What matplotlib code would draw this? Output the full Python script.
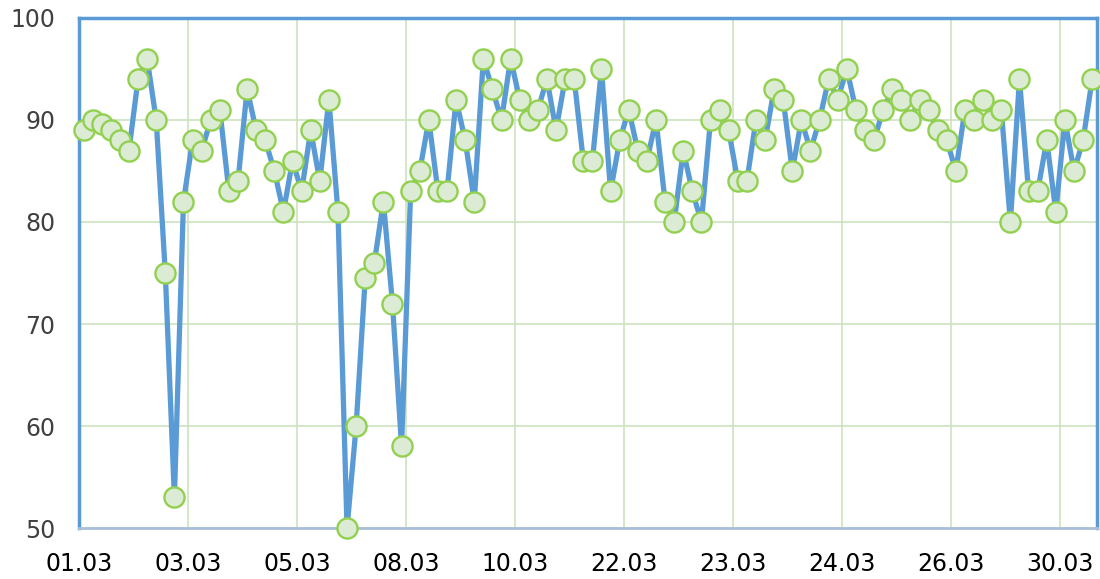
import numpy as np
import matplotlib.pyplot as plt

# values, one per category
values = [
    89, 90, 89.6, 89, 88, 87, 94, 96, 90, 75, 53, 82,
    88, 87, 90, 91, 83, 84, 93, 89, 88, 85, 81, 86,
    83, 89, 84, 92, 81, 50, 60, 74.5, 76, 82, 72, 58,
    83, 85, 90, 83, 83, 92, 88, 82, 96, 93, 90, 96,
    92, 90, 91, 94, 89, 94, 94, 86, 86, 95, 83, 88,
    91, 87, 86, 90, 82, 80, 87, 83, 80, 90, 91, 89,
    84, 84, 90, 88, 93, 92, 85, 90, 87, 90, 94, 92,
    95, 91, 89, 88, 91, 93, 92, 90, 92, 91, 89, 88,
    85, 91, 90, 92, 90, 91, 80, 94, 83, 83, 88, 81,
    90, 85, 88, 94,
]
tick_labels = ["01.03", "03.03", "05.03", "08.03", "10.03",
               "22.03", "23.03", "24.03", "26.03", "30.03"]
label_step = 12

blue = "#5b9bd5"
grid_green = "#cce3bd"

fig = plt.figure(figsize=(11, 5.79), dpi=100)
ax = fig.add_axes([0.0718, 0.088, 0.9252, 0.881])

n = len(values)
x = np.arange(n) + 0.5
ax.plot(x, values, color=blue, lw=3.8, zorder=3,
        marker="o", markersize=14.5, markerfacecolor="#dcebd3",
        markeredgecolor="#92d050", markeredgewidth=1.7, clip_on=False)

ax.set_xlim(0, n)
ax.set_ylim(50, 100)
ticks = np.arange(0, n, label_step)
ax.set_xticks(ticks)
ax.set_xticklabels(tick_labels[:len(ticks)])
ax.set_yticks(np.arange(50, 101, 10))

ax.grid(True, color=grid_green, lw=1.2, zorder=0)
ax.tick_params(axis="both", length=0, labelsize=17)
ax.tick_params(axis="y", pad=17, labelcolor="#404040")
ax.tick_params(axis="x", pad=17, labelcolor="black")

for side in ["left", "top", "right"]:
    ax.spines[side].set_color(blue)
    ax.spines[side].set_linewidth(2.5)
ax.spines["bottom"].set_color("#a9bfd8")
ax.spines["bottom"].set_linewidth(2)

fig.savefig("out.png", dpi=100)
